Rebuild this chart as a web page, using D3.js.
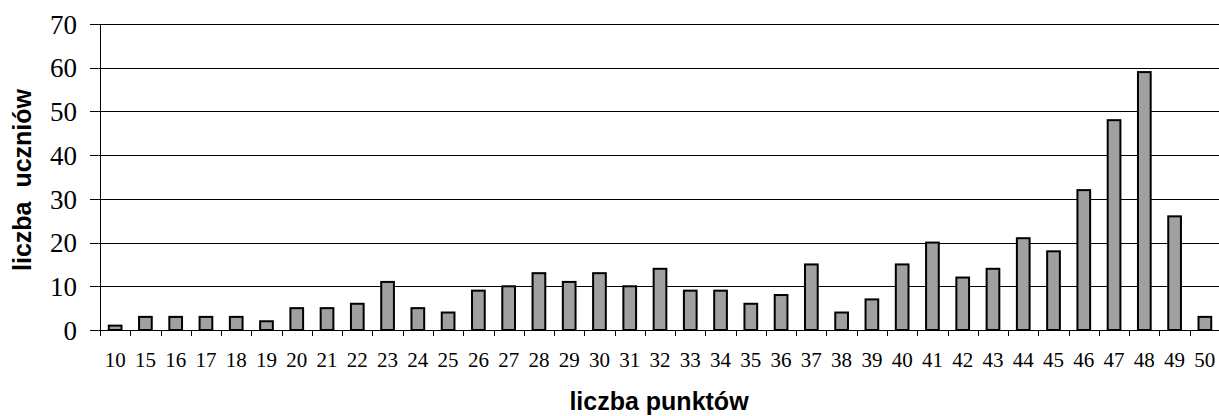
<!DOCTYPE html>
<html><head><meta charset="utf-8">
<script src="https://cdn.jsdelivr.net/npm/d3@7"></script>
<style>html,body{margin:0;padding:0;background:#fff;overflow:hidden}</style>
</head><body>
<svg id="chart" width="1219" height="416"></svg>
<script>
const categories = ["10","15","16","17","18","19","20","21","22","23","24","25","26","27","28","29","30","31","32","33","34","35","36","37","38","39","40","41","42","43","44","45","46","47","48","49","50"];
const values = [1,3,3,3,3,2,5,5,6,11,5,4,9,10,13,11,13,10,14,9,9,6,8,15,4,7,15,20,12,14,21,18,32,48,59,26,3];
const yTicks = [0,10,20,30,40,50,60,70];
const yTitle = "liczba  uczniów";
const xTitle = "liczba punktów";

const svg = d3.select("#chart");
const plotLeft = 100, plotRight = 1220, plotTop = 24, plotBottom = 330;

const x = d3.scaleBand().domain(categories).range([plotLeft, plotRight]).padding(0);
const y = d3.scaleLinear().domain([0, 70]).range([plotBottom, plotTop]);

// gridlines
svg.append("g").selectAll("line").data(yTicks).join("line")
  .attr("x1", plotLeft - 10).attr("x2", 1219)
  .attr("y1", d => Math.round(y(d)) + 0.5).attr("y2", d => Math.round(y(d)) + 0.5)
  .attr("stroke", "#000").attr("stroke-width", 1);

// y labels
svg.append("g").selectAll("text").data(yTicks).join("text")
  .attr("x", 77).attr("y", d => y(d)).attr("dy", "0.36em")
  .attr("text-anchor", "end")
  .attr("font-family", "'Liberation Serif', 'Times New Roman', serif")
  .attr("font-size", 27).attr("fill", "#000")
  .text(d => d);

// bars
const bw = x.bandwidth() * 0.42;
svg.append("g").selectAll("rect").data(values).join("rect")
  .attr("x", (d, i) => x(categories[i]) + x.bandwidth() / 2 - bw / 2)
  .attr("y", d => y(d))
  .attr("width", bw)
  .attr("height", d => y(0) - y(d))
  .attr("fill", "#a0a0a0").attr("stroke", "#000").attr("stroke-width", 2);

// y axis line
svg.append("line").attr("x1", plotLeft + 0.5).attr("x2", plotLeft + 0.5)
  .attr("y1", plotTop).attr("y2", plotBottom + 6).attr("stroke", "#000");

// x ticks at band boundaries
svg.append("g").selectAll("line").data(categories).join("line")
  .attr("x1", d => Math.round(x(d)) + 0.5).attr("x2", d => Math.round(x(d)) + 0.5)
  .attr("y1", plotBottom).attr("y2", plotBottom + 6)
  .attr("stroke", "#000");

// x labels
svg.append("g").selectAll("text").data(categories).join("text")
  .attr("x", d => x(d) + x.bandwidth() / 2).attr("y", 367)
  .attr("text-anchor", "middle")
  .attr("font-family", "'Liberation Serif', 'Times New Roman', serif")
  .attr("font-size", 21).attr("fill", "#000")
  .text(d => d);

// axis titles
svg.append("text")
  .attr("transform", "translate(30.5,180) rotate(-90)")
  .attr("text-anchor", "middle")
  .style("white-space", "pre")
  .attr("font-family", "'Liberation Sans', Arial, sans-serif")
  .attr("font-weight", "bold").attr("font-size", 25).attr("fill", "#000")
  .text(yTitle);

svg.append("text")
  .attr("x", 659).attr("y", 410)
  .attr("text-anchor", "middle")
  .attr("font-family", "'Liberation Sans', Arial, sans-serif")
  .attr("font-weight", "bold").attr("font-size", 25).attr("fill", "#000")
  .text(xTitle);
</script>
</body></html>
